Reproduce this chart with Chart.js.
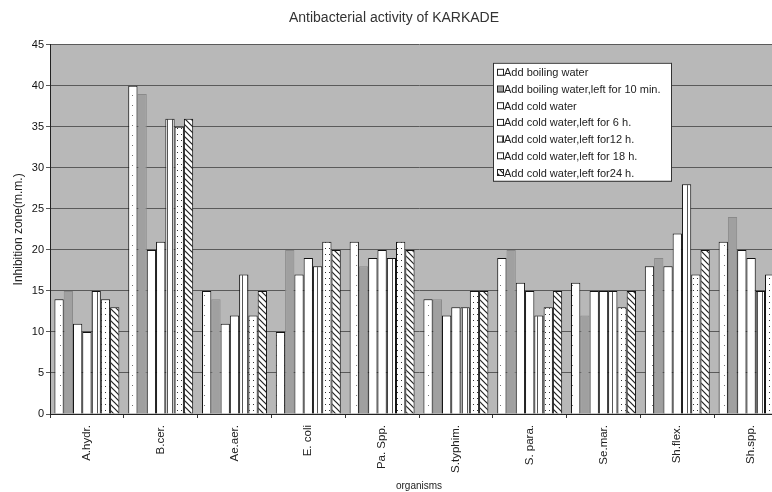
<!DOCTYPE html>
<html>
<head>
<meta charset="utf-8">
<script src="https://cdn.jsdelivr.net/npm/chart.js@4/dist/chart.umd.min.js"></script>
<style>
html,body{margin:0;padding:0;background:#fff;overflow:hidden;width:772px;height:492px;}
#wrap{width:800px;height:492px;}
</style>
</head>
<body>
<div id="wrap"><canvas id="c" width="800" height="492"></canvas></div>
<script>
const categories = ['A.hydr.','B.cer.','Ae.aer.','E. coli','Pa. Spp.','S.typhim.','S. para.','Se.mar.','Sh.flex.','Sh.spp.'];
const seriesNames = ['Add boiling water','Add boiling water,left for 10 min.','Add cold water','Add cold water,left for 6 h.','Add cold water,left for12 h.','Add cold water,left for 18 h.','Add cold water,left for24 h.'];
const boilingWater = [14,40,15,10,21,14,19,16,18,21];
const boiling10min = [15,39,14,20,18,14,20,12,19,24];
const coldWater    = [11,20,11,17,19,12,16,15,18,20];
const cold6h       = [10,21,12,19,20,13,15,15,22,19];
const cold12h      = [15,36,17,18,19,13,12,15,28,15];
const cold18h      = [14,35,12,21,21,15,13,13,17,17];
const cold24h      = [13,36,15,20,20,15,15,15,20,15];
const yTicks = [0,5,10,15,20,25,30,35,40,45];

function makePattern(w,h,draw){
  const c=document.createElement('canvas');c.width=w;c.height=h;
  const g=c.getContext('2d');draw(g,w,h);
  return g.createPattern(c,'repeat');
}
const pSparseDots = makePattern(8,10,(g,w,h)=>{g.fillStyle='#fff';g.fillRect(0,0,w,h);g.fillStyle='#777';g.fillRect(4,5,1,1);});
const pGray = '#a0a0a0';
const pWhite = '#ffffff';
const pLines = makePattern(5,4,(g,w,h)=>{g.fillStyle='#fff';g.fillRect(0,0,w,h);g.fillStyle='#555';g.fillRect(2,0,1,h);});
const pDots = makePattern(4,6,(g,w,h)=>{g.fillStyle='#fff';g.fillRect(0,0,w,h);g.fillStyle='#333';g.fillRect(1,2,1,1);});
const pHatch = makePattern(6,6,(g,w,h)=>{g.fillStyle='#fff';g.fillRect(0,0,w,h);g.strokeStyle='#222';g.lineWidth=1.2;g.beginPath();g.moveTo(0,0);g.lineTo(6,6);g.moveTo(-3,3);g.lineTo(3,9);g.moveTo(3,-3);g.lineTo(9,3);g.stroke();});

const fills = [pSparseDots,pGray,pWhite,pWhite,pLines,pDots,pHatch];
const borders = ['#111','#8a8a8a','#111','#111','#111','#111','#111'];
const values = [boilingWater,boiling10min,coldWater,cold6h,cold12h,cold18h,cold24h];

Chart.defaults.font.family = '"Liberation Sans", Arial, sans-serif';
Chart.defaults.color = '#222';

const bgPlugin = {
  id:'plotBg',
  beforeDraw(chart){
    const a=chart.chartArea,ctx=chart.ctx;
    ctx.save();ctx.fillStyle='#b8b8b8';ctx.fillRect(a.left,a.top,a.right-a.left,a.bottom-a.top);ctx.restore();
  }
};
const legendPlugin = {
  id:'boxLegend',
  afterDraw(chart){
    const a=chart.chartArea,ctx=chart.ctx;
    const x=a.left+443,y=a.top+18,w=178,h=118,row=16.7;
    ctx.save();
    ctx.fillStyle='#fff';ctx.fillRect(x,y,w,h);
    ctx.strokeStyle='#333';ctx.lineWidth=1;ctx.strokeRect(x+0.5,y+0.5,w,h);
    ctx.font='11px "Liberation Sans", Arial, sans-serif';
    ctx.textBaseline='middle';
    chart.data.datasets.forEach((ds,i)=>{
      const cy=y+10+i*row;
      ctx.fillStyle=ds.backgroundColor;ctx.fillRect(x+4,cy-3,6,6);
      ctx.strokeStyle='#222';ctx.strokeRect(x+4.5,cy-3.5,6,6);
      ctx.fillStyle='#222';ctx.fillText(ds.label,x+11,cy+0.5);
    });
    ctx.restore();
  }
};

new Chart(document.getElementById('c'),{
  type:'bar',
  data:{
    labels:categories,
    datasets:values.map((v,i)=>({
      label:seriesNames[i],data:v,backgroundColor:fills[i],borderColor:borders[i],borderWidth:1,
      categoryPercentage:0.88,barPercentage:1.0
    }))
  },
  options:{
    responsive:false,animation:false,devicePixelRatio:1,
    layout:{padding:{left:0,right:12,top:0,bottom:0}},
    plugins:{
      legend:{display:false},
      tooltip:{enabled:false},
      title:{display:true,text:'Antibacterial activity of KARKADE',color:'#333',font:{size:14,weight:'normal'},padding:{top:10,bottom:18}}
    },
    scales:{
      x:{
        afterFit(s){s.height=78;},
        grid:{display:true,drawOnChartArea:false,drawTicks:true,tickLength:4,color:'#333',offset:true},
        border:{display:true,color:'#222'},
        ticks:{minRotation:90,maxRotation:90,autoSkip:false,font:{size:11.5},color:'#222',padding:7},
        title:{display:true,text:'organisms',font:{size:10},color:'#222',padding:{top:0,bottom:0}}
      },
      y:{
        min:0,max:45,
        afterFit(s){s.width=50;},
        afterBuildTicks(s){s.ticks=yTicks.map(v=>({value:v}));},
        grid:{color:'#5a5a5a',lineWidth:1,tickLength:4},
        border:{display:true,color:'#222'},
        ticks:{font:{size:11},color:'#111',padding:2},
        title:{display:true,text:'Inhibition zone(m.m.)',font:{size:12},color:'#222',padding:{top:11,bottom:0}}
      }
    }
  },
  plugins:[bgPlugin,legendPlugin]
});
</script>
</body>
</html>
